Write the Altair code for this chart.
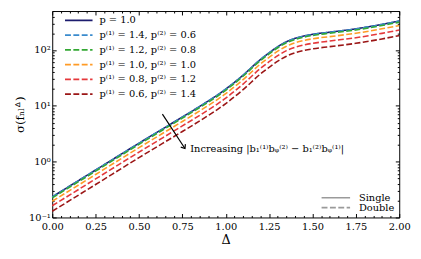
import altair as alt
import pandas as pd

# ---- data ----
delta = [0.0, 0.25, 0.5, 0.75, 0.85, 1.0, 1.1, 1.2, 1.25, 1.3, 1.35, 1.4, 1.45, 1.5, 1.6, 1.75, 1.9, 2.0]

sig_p10 = [0.234, 0.708, 2.14, 6.31, 9.77, 19.95, 35.5, 67.6, 89.1, 114.8, 141, 162, 178, 191, 209, 240, 288, 331]
sig_14_06 = [0.233, 0.705, 2.13, 6.28, 9.72, 19.9, 35.3, 67.3, 88.7, 114, 140, 161, 177, 190, 208, 239, 287, 330]
sig_12_08 = [0.224, 0.676, 2.04, 6.03, 9.33, 19.0, 33.9, 64.6, 85.1, 110, 135, 155, 170, 182, 200, 229, 275, 316]
sig_10_10 = [0.195, 0.589, 1.78, 5.25, 8.13, 16.6, 29.5, 56.2, 74.1, 95.5, 117, 135, 148, 159, 174, 200, 240, 275]
sig_08_12 = [0.162, 0.490, 1.48, 4.37, 6.76, 13.8, 24.6, 46.8, 61.7, 79.4, 97.6, 112, 123, 132, 145, 166, 199, 229]
sig_06_14 = [0.129, 0.389, 1.18, 3.47, 5.37, 11.0, 19.5, 37.2, 49.0, 63.1, 77.6, 89.1, 97.9, 105, 115, 132, 158, 182]

labels = [
    "p = 1.0",
    "p⁽¹⁾ = 1.4, p⁽²⁾ = 0.6",
    "p⁽¹⁾ = 1.2, p⁽²⁾ = 0.8",
    "p⁽¹⁾ = 1.0, p⁽²⁾ = 1.0",
    "p⁽¹⁾ = 0.8, p⁽²⁾ = 1.2",
    "p⁽¹⁾ = 0.6, p⁽²⁾ = 1.4",
]
series_values = [sig_p10, sig_14_06, sig_12_08, sig_10_10, sig_08_12, sig_06_14]
colors = ["#1c1c6e", "#3a8bcd", "#33a833", "#ff9b26", "#e5383b", "#9b1616"]
dashes = [[1, 0], [6, 2.5], [6, 2.5], [6, 2.5], [6, 2.5], [6, 2.5]]

kinds = ["Single", "Double"]
kind_dashes = [[1, 0], [6, 2.5]]

x_major = [0.0, 0.25, 0.5, 0.75, 1.0, 1.25, 1.5, 1.75, 2.0]
x_minor = [round(i * 0.05, 2) for i in range(41) if i % 5 != 0]
y_major = [0.1, 1, 10, 100]
y_minor = [m * 10.0 ** e for e in (-1, 0, 1, 2) for m in range(2, 10) if m * 10.0 ** e <= 500]

arrow_from = (0.635, 7.1)
arrow_to = (0.765, 1.72)
note_pos = (0.795, 1.66)
note_text = "Increasing |b₁⁽¹⁾bᵩ⁽²⁾ − b₁⁽²⁾bᵩ⁽¹⁾|"

# ---- tables ----
rows = []
for lab, vals in zip(labels, series_values):
    for d, s in zip(delta, vals):
        rows.append({"series": lab, "delta": d, "sigma": s})
df = pd.DataFrame(rows)

kind_df = pd.DataFrame({"kind": kinds, "delta": [None, None], "sigma": [None, None]})
arrow_df = pd.DataFrame({"d0": [arrow_from[0]], "s0": [arrow_from[1]],
                         "d1": [arrow_to[0]], "s1": [arrow_to[1]]})
head_df = pd.DataFrame({"delta": [arrow_to[0]], "sigma": [arrow_to[1]]})
note_df = pd.DataFrame({"delta": [note_pos[0]], "sigma": [note_pos[1]], "text": [note_text]})

serif = "DejaVu Serif"
xs = alt.Scale(domain=[0, 2], nice=False, zero=False)
ys = alt.Scale(type="log", domain=[0.1, 500], nice=False)

ylabel_expr = ("datum.value == 0.1 ? '10⁻¹' : datum.value == 1 ? '10⁰' : "
               "datum.value == 10 ? '10¹' : '10²'")

main_x_axis = alt.Axis(values=x_major, format=".2f", tickSize=4, offset=-4, domain=False,
                       grid=False, labelFont=serif, labelFontSize=10, labelPadding=4,
                       labelColor="black", tickColor="black", title="Δ", titleFont=serif,
                       titleFontSize=13, titleFontWeight="normal", titleColor="black",
                       titlePadding=3, labelFlush=False)
main_y_axis = alt.Axis(values=y_major, labelExpr=ylabel_expr, tickSize=4, offset=-4,
                       domain=False, grid=False, labelFont=serif, labelFontSize=10,
                       labelPadding=2, labelColor="black", tickColor="black",
                       title="σ(fₙₗᐞ)", titleFont=serif, titleFontSize=12,
                       titleFontWeight="normal", titleColor="black", titlePadding=2)

legend1 = alt.Legend(
    title=None, orient="none", legendX=12, legendY=2, symbolType="stroke",
    symbolSize=784, symbolStrokeWidth=1.8, clipHeight=15, rowPadding=0,
    padding=0, labelFont=serif, labelFontSize=10, labelColor="black",
    labelOffset=6,
    symbolDash=alt.ExprRef("datum.value == 'p = 1.0' ? [1, 0] : [6, 2.5]"),
)

lines = alt.Chart(df).mark_line(strokeWidth=1.6, interpolate="monotone").encode(
    x=alt.X("delta:Q", scale=xs, axis=main_x_axis),
    y=alt.Y("sigma:Q", scale=ys, axis=main_y_axis),
    color=alt.Color("series:N", scale=alt.Scale(domain=labels, range=colors), legend=legend1),
    strokeDash=alt.StrokeDash("series:N", scale=alt.Scale(domain=labels, range=dashes),
                              legend=None),
)

legend2 = alt.Legend(title=None, orient="none", legendX=273, legendY=185, symbolType="stroke",
                     symbolSize=841, symbolStrokeWidth=1.6, symbolStrokeColor="#9a9a9a",
                     clipHeight=10, rowPadding=0, padding=0, labelFont=serif,
                     labelFontSize=10, labelColor="black", labelOffset=8)

kind_layer = alt.Chart(kind_df).mark_line(strokeWidth=1.6, color="#9a9a9a").encode(
    x=alt.X("delta:Q", scale=xs, axis=None),
    y=alt.Y("sigma:Q", scale=ys, axis=None),
    strokeDash=alt.StrokeDash("kind:N", scale=alt.Scale(domain=kinds, range=kind_dashes),
                              legend=legend2),
)


def tick_layer(xaxis=None, yaxis=None):
    return alt.Chart(df).mark_point(opacity=0).encode(
        x=alt.X("delta:Q", scale=xs, axis=xaxis),
        y=alt.Y("sigma:Q", scale=ys, axis=yaxis),
    )


def tick_axis(orient, values, size):
    return alt.Axis(orient=orient, values=values, tickSize=size, offset=-size, labels=False,
                    domain=False, grid=False, title=None, tickColor="black")


ticks = [
    tick_layer(xaxis=tick_axis("bottom", x_minor, 2)),
    tick_layer(xaxis=tick_axis("top", x_major, 4)),
    tick_layer(xaxis=tick_axis("top", x_minor, 2)),
    tick_layer(yaxis=tick_axis("left", y_minor, 2)),
    tick_layer(yaxis=tick_axis("right", y_major, 4)),
    tick_layer(yaxis=tick_axis("right", y_minor, 2)),
]

arrow = alt.Chart(arrow_df).mark_rule(color="black", strokeWidth=1.2).encode(
    x=alt.X("d0:Q", scale=xs, axis=None),
    y=alt.Y("s0:Q", scale=ys, axis=None),
    x2="d1:Q",
    y2="s1:Q",
)
head = alt.Chart(head_df).mark_point(shape="M-0.8,1L0,0L0.8,1", filled=False, color="black",
                                     strokeWidth=1.2, size=50, angle=147, opacity=1).encode(
    x=alt.X("delta:Q", scale=xs, axis=None),
    y=alt.Y("sigma:Q", scale=ys, axis=None),
)
note = alt.Chart(note_df).mark_text(align="left", baseline="middle", font=serif, fontSize=10,
                                    color="black").encode(
    x=alt.X("delta:Q", scale=xs, axis=None),
    y=alt.Y("sigma:Q", scale=ys, axis=None),
    text="text:N",
)

chart = alt.layer(lines, kind_layer, *ticks, arrow, head, note).resolve_scale(
    strokeDash="independent"
).resolve_axis(
    x="independent", y="independent"
).properties(
    width=353, height=210,
    padding={"left": 5, "top": 0, "right": 2, "bottom": 0},
).configure_view(stroke="black", strokeWidth=1)

chart.save("out.html", embed_options={"renderer": "svg", "actions": False})
